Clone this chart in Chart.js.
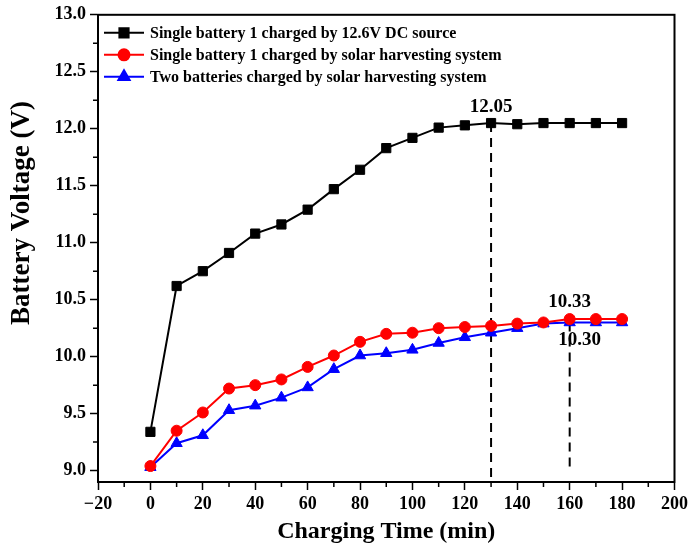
<!doctype html>
<html>
<head>
    <title>Battery voltage</title>
    <script src="https://cdn.jsdelivr.net/npm/chart.js"></script>
    <style>
        body { margin: 0; background: #fff; }
        #wrap { width: 692px; height: 550px; }
    </style>
</head>
<body>
<div id="wrap"><canvas id="grafico"></canvas></div>
<script>
    var tempos = [0, 10, 20, 30, 40, 50, 60, 70, 80, 90, 100, 110, 120, 130, 140, 150, 160, 170, 180];
    var fonteDC = [9.34, 10.62, 10.75, 10.91, 11.08, 11.16, 11.29, 11.47, 11.64, 11.83, 11.92, 12.01, 12.03, 12.05, 12.04, 12.05, 12.05, 12.05, 12.05];
    var solarUma = [9.04, 9.35, 9.51, 9.72, 9.75, 9.80, 9.91, 10.01, 10.13, 10.20, 10.21, 10.25, 10.26, 10.27, 10.29, 10.30, 10.33, 10.33, 10.33];
    var solarDuas = [9.03, 9.24, 9.31, 9.53, 9.57, 9.64, 9.73, 9.89, 10.01, 10.03, 10.06, 10.12, 10.17, 10.21, 10.25, 10.29, 10.30, 10.30, 10.30];
    var nomes = [
        'Single battery 1 charged by 12.6V DC source',
        'Single battery 1 charged by solar harvesting system',
        'Two batteries charged by solar harvesting system'
    ];
    var xTicks = [-20, 0, 20, 40, 60, 80, 100, 120, 140, 160, 180, 200];
    var yTicks = [9.0, 9.5, 10.0, 10.5, 11.0, 11.5, 12.0, 12.5, 13.0];
    var marcas = [
        { x: 130, y: 12.05, texto: '12.05', dx: 0, dy: -16 },
        { x: 160, y: 10.33, texto: '10.33', dx: 0, dy: -17 },
        { x: 160, y: 10.30, texto: '10.30', dx: 10, dy: 18 }
    ];
    var tituloY = 'Battery Voltage (V)';
    var fonte = '"Liberation Serif", "Times New Roman", serif';

    function pontos(valores) {
        return tempos.map((t, i) => ({ x: t, y: valores[i] }));
    }

    var serie = (label, valores, cor, estilo, raio) => ({
        label: label,
        data: pontos(valores),
        borderColor: cor,
        backgroundColor: cor,
        borderWidth: 2,
        pointStyle: estilo,
        pointRadius: raio,
        pointHoverRadius: raio,
        pointBorderWidth: 1
    });

    var tracejado = (dados) => ({
        label: '',
        data: dados,
        borderColor: '#000',
        borderWidth: 2,
        borderDash: [9, 6],
        pointRadius: 0
    });

    // legenda, moldura, ticks menores, titulo Y e valores
    var extras = {
        id: 'extras',
        afterDraw(chart) {
            var ctx = chart.ctx;
            var a = chart.chartArea;
            var sx = chart.scales.x, sy = chart.scales.y;
            ctx.save();
            ctx.strokeStyle = '#000';
            ctx.lineWidth = 2;
            ctx.strokeRect(a.left, a.top, a.right - a.left, a.bottom - a.top);

            ctx.lineWidth = 1.5;
            ctx.beginPath();
            for (var v = -10; v < 200; v += 20) {
                var px = sx.getPixelForValue(v);
                ctx.moveTo(px, a.bottom);
                ctx.lineTo(px, a.bottom + 5);
            }
            for (var w = 9.25; w < 13; w += 0.5) {
                var py = sy.getPixelForValue(w);
                ctx.moveTo(a.left, py);
                ctx.lineTo(a.left - 5, py);
            }
            ctx.stroke();

            ctx.fillStyle = '#000';
            ctx.font = 'bold 19px ' + fonte;
            ctx.textAlign = 'center';
            ctx.textBaseline = 'middle';
            marcas.forEach(m => {
                ctx.fillText(m.texto, sx.getPixelForValue(m.x) + m.dx, sy.getPixelForValue(m.y) + m.dy);
            });

            ctx.save();
            ctx.translate(22, 213);
            ctx.rotate(-Math.PI / 2);
            ctx.font = 'bold 27px ' + fonte;
            ctx.fillText(tituloY, 0, 0);
            ctx.restore();

            ctx.textAlign = 'left';
            ctx.font = 'bold 16px ' + fonte;
            for (var i = 0; i < 3; i++) {
                var ds = chart.data.datasets[i];
                var y = a.top + 18 + i * 22;
                ctx.strokeStyle = ds.borderColor;
                ctx.lineWidth = 2;
                ctx.beginPath();
                ctx.moveTo(a.left + 6, y);
                ctx.lineTo(a.left + 46, y);
                ctx.stroke();
                Chart.helpers.drawPoint(ctx, {
                    pointStyle: ds.pointStyle,
                    radius: ds.pointRadius,
                    borderWidth: 1,
                    rotation: 0
                }, a.left + 26, y);
                ctx.fillStyle = ds.borderColor;
                ctx.fill();
                ctx.fillStyle = '#000';
                ctx.fillText(nomes[i], a.left + 52, y + 1);
            }
            ctx.restore();
        }
    };

    var grafico = new Chart(document.getElementById('grafico').getContext('2d'), {
        type: 'line',
        data: {
            datasets: [
                serie(nomes[0], fonteDC, '#000000', 'rect', 6.5),
                serie(nomes[1], solarUma, '#ff0000', 'circle', 5.5),
                serie(nomes[2], solarDuas, '#0000ff', 'triangle', 6.5),
                tracejado([{ x: 130, y: 12.05 }, { x: 130, y: 8.9 }]),
                tracejado([{ x: 160, y: 10.30 }, { x: 160, y: 9.0 }])
            ]
        },
        plugins: [extras],
        options: {
            responsive: true,
            maintainAspectRatio: false,
            animation: false,
            layout: { padding: { top: 14, right: 12, left: 0, bottom: 0 } },
            plugins: {
                legend: { display: false },
                tooltip: { enabled: false }
            },
            scales: {
                x: {
                    type: 'linear',
                    min: -20,
                    max: 200,
                    afterBuildTicks: (s) => { s.ticks = xTicks.map(v => ({ value: v })); },
                    afterFit: (s) => { s.height = 68; },
                    grid: { drawOnChartArea: false, tickLength: 8, tickWidth: 1.5, tickColor: '#000' },
                    border: { color: '#000', width: 2 },
                    ticks: {
                        color: '#000',
                        padding: 4,
                        font: { family: fonte, size: 18, weight: 'bold' },
                        callback: (v) => v < 0 ? '\u221220' : v
                    },
                    title: {
                        display: true,
                        text: 'Charging Time (min)',
                        color: '#000',
                        padding: { top: 8 },
                        font: { family: fonte, size: 24, weight: 'bold' }
                    }
                },
                y: {
                    min: 8.9,
                    max: 13.0,
                    afterBuildTicks: (s) => { s.ticks = yTicks.map(v => ({ value: v })); },
                    afterFit: (s) => { s.width = 98; },
                    grid: { drawOnChartArea: false, tickLength: 8, tickWidth: 1.5, tickColor: '#000' },
                    border: { color: '#000', width: 2 },
                    ticks: {
                        color: '#000',
                        padding: 4,
                        font: { family: fonte, size: 18, weight: 'bold' },
                        callback: (v) => Number(v).toFixed(1)
                    }
                }
            }
        }
    });
</script>
</body>
</html>
